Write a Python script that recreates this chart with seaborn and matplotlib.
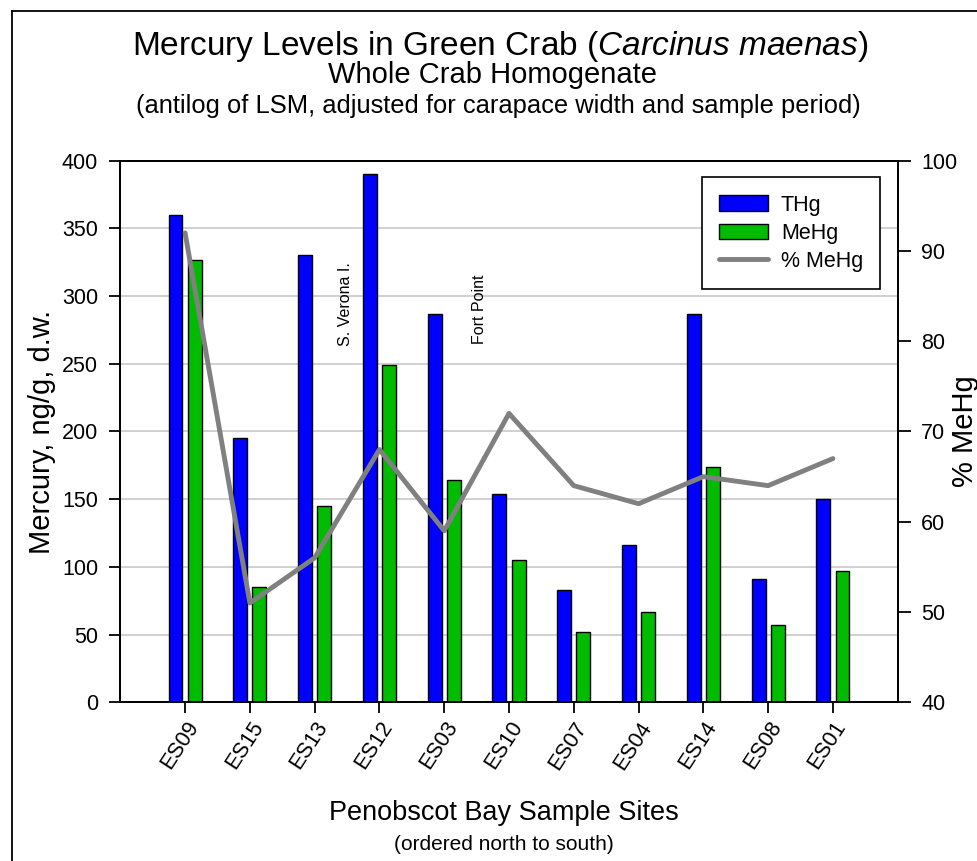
import numpy as np
import pandas as pd
import matplotlib
matplotlib.use("Agg")
import matplotlib.pyplot as plt
import seaborn as sns
from matplotlib.patches import Patch
from matplotlib.lines import Line2D

# Sampling sites, ordered north to south
sites = ["ES09", "ES15", "ES13", "ES12", "ES03", "ES10", "ES07", "ES04", "ES14", "ES08", "ES01"]
# Mercury concentrations, ng/g dry weight
thg = [360, 195, 330, 390, 287, 154, 83, 116, 287, 91, 150]
mehg = [327, 85, 145, 249, 164, 105, 52, 67, 174, 57, 97]
# Methylmercury as a share of total mercury
pct_mehg = [92, 51, 56, 68, 59, 72, 64, 62, 65, 64, 67]
series_names = ["THg", "MeHg"]
line_name = "% MeHg"
left_ticks = list(range(0, 401, 50))
right_ticks = list(range(40, 101, 10))

BLUE = "#0000ff"
GREEN = "#00bb00"
GREY = "#808080"

sns.set_theme(style="ticks")
plt.rcParams["font.family"] = ["Liberation Sans", "DejaVu Sans"]
plt.rcParams["mathtext.fontset"] = "custom"
plt.rcParams["mathtext.rm"] = "Liberation Sans"
plt.rcParams["mathtext.it"] = "Liberation Sans:italic"
plt.rcParams["text.color"] = "black"
plt.rcParams["axes.labelcolor"] = "black"
plt.rcParams["xtick.color"] = "black"
plt.rcParams["ytick.color"] = "black"

bars = pd.DataFrame({
    "site": sites * 2,
    "series": [series_names[0]] * len(sites) + [series_names[1]] * len(sites),
    "value": thg + mehg,
})
line = pd.DataFrame({"site": sites, "pct": pct_mehg})

fig = plt.figure(figsize=(9.78, 8.61), dpi=100)
ax = fig.add_axes([0.1230, 0.1843, 0.7949, 0.6291])

sns.barplot(data=bars, x="site", y="value", hue="series", order=sites,
            hue_order=series_names, palette=[BLUE, GREEN], saturation=1,
            width=0.59, gap=0.27, edgecolor="black", linewidth=1.0,
            errorbar=None, legend=False, ax=ax)
ax.set_xlim(-1, len(sites))
ax.set_ylim(0, 400)
ax.set_yticks(left_ticks)
ax.yaxis.grid(True, color="#c8c8c8", lw=1.2)
ax.set_axisbelow(True)
ax.set_xlabel("")
ax.set_ylabel("Mercury, ng/g, d.w.", fontsize=21)
ax.yaxis.set_label_coords(-0.083, 0.5)

ax2 = ax.twinx()
sns.lineplot(data=line, x="site", y="pct", sort=False, color=GREY, lw=3.5,
             ax=ax2, legend=False)
ax2.set_ylim(40, 100)
ax2.set_yticks(right_ticks)
ax2.set_ylabel(line_name, fontsize=21)
ax2.yaxis.set_label_coords(1.068, 0.5)
ax2.set_xlim(-1, len(sites))

for a in (ax, ax2):
    for s in a.spines.values():
        s.set_visible(True)
        s.set_color("black")
        s.set_linewidth(1.3)
ax.tick_params(axis="both", direction="out", length=8, width=1.3,
               labelsize=15.5, color="black", labelcolor="black")
ax.tick_params(axis="y", pad=8)
ax.tick_params(axis="x", pad=3)
ax2.tick_params(axis="y", direction="out", length=9, width=1.3,
                labelsize=15.5, color="black", labelcolor="black", pad=8)
plt.setp(ax.get_xticklabels(), rotation=57, ha="right", rotation_mode="anchor")

ax.text(2.47, 294, "S. Verona I.", rotation=90, ha="center", va="center", fontsize=11.5)
ax.text(4.54, 290, "Fort Point", rotation=90, ha="center", va="center", fontsize=11.5)

handles = [Patch(facecolor=BLUE, edgecolor="black", lw=1.0),
           Patch(facecolor=GREEN, edgecolor="black", lw=1.0),
           Line2D([], [], color=GREY, lw=3.5)]
leg = ax2.legend(handles, series_names + [line_name], loc="upper right",
                 bbox_to_anchor=(0.9001, 0.7941), bbox_transform=fig.transFigure,
                 fontsize=15.5, frameon=True, fancybox=False, edgecolor="black",
                 framealpha=1, handlelength=2.28, handleheight=0.7,
                 handletextpad=0.59, borderpad=0.8, labelspacing=0.33,
                 borderaxespad=0)
leg.get_frame().set_linewidth(1.2)

fig.text(0.511, 1 - 46 / 861, r"Mercury Levels in Green Crab ($\it{Carcinus\ maenas}$)",
         ha="center", va="center", fontsize=24)
fig.text(0.504, 1 - 75 / 861, "Whole Crab Homogenate", ha="center", va="center", fontsize=21)
fig.text(0.510, 1 - 106 / 861,
         "(antilog of LSM, adjusted for carapace width and sample period)",
         ha="center", va="center", fontsize=18.4)
fig.text(0.515, 1 - 813 / 861, "Penobscot Bay Sample Sites", ha="center", va="center",
         fontsize=19.5)
fig.text(0.515, 1 - 845 / 861, "(ordered north to south)", ha="center", va="center",
         fontsize=15)

# Page frame: only the left and top edges fall inside the canvas
frame_x = 12 / 978
frame_y = 1 - 11 / 861
fig.add_artist(Line2D([frame_x, frame_x], [0, frame_y], transform=fig.transFigure,
                      color="black", lw=1.3, solid_capstyle="projecting"))
fig.add_artist(Line2D([frame_x, 1], [frame_y, frame_y], transform=fig.transFigure,
                      color="black", lw=1.3, solid_capstyle="projecting"))

fig.savefig("out.png", dpi=100)
